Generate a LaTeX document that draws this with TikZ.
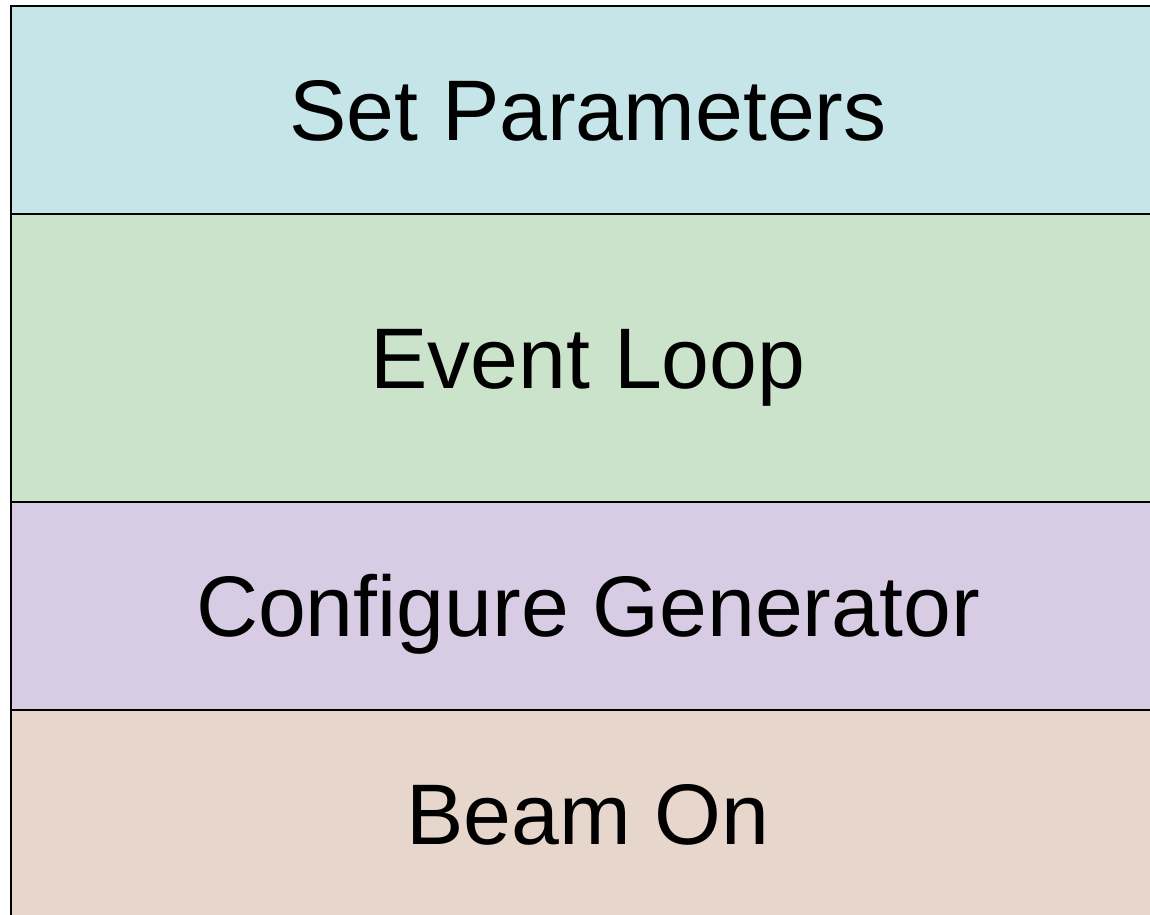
\documentclass[tikz,border=0pt]{standalone}
\usepackage{fontspec}
\setmainfont{Liberation Sans}
\definecolor{cblue}{HTML}{C5E5E9}
\definecolor{cgreen}{HTML}{CCE3CB}
\definecolor{cpurple}{HTML}{D8CCE4}
\definecolor{ctan}{HTML}{E6D6CC}
\tikzset{
  layerbox/.style={draw=black, line width=2.5pt, rectangle, inner sep=0pt,
    minimum width=1154pt, text height=61.6pt, text depth=0pt,
    font=\fontsize{86}{100}\selectfont, text=black}
}
\begin{document}
\begin{tikzpicture}[x=1pt,y=-1pt]
\useasboundingbox (0,0) rectangle (1150,914);
\node[layerbox, fill=cblue, minimum height=208pt] (setp) at (588,110) {Set Parameters};
\node[layerbox, fill=cgreen, minimum height=288pt] (loop) at (588,358) {Event Loop};
\node[layerbox, fill=cpurple, minimum height=208pt] (conf) at (588,606) {Configure Generator};
\node[layerbox, fill=ctan, minimum height=208pt] (beam) at (588,814) {Beam On};
\end{tikzpicture}
\end{document}
